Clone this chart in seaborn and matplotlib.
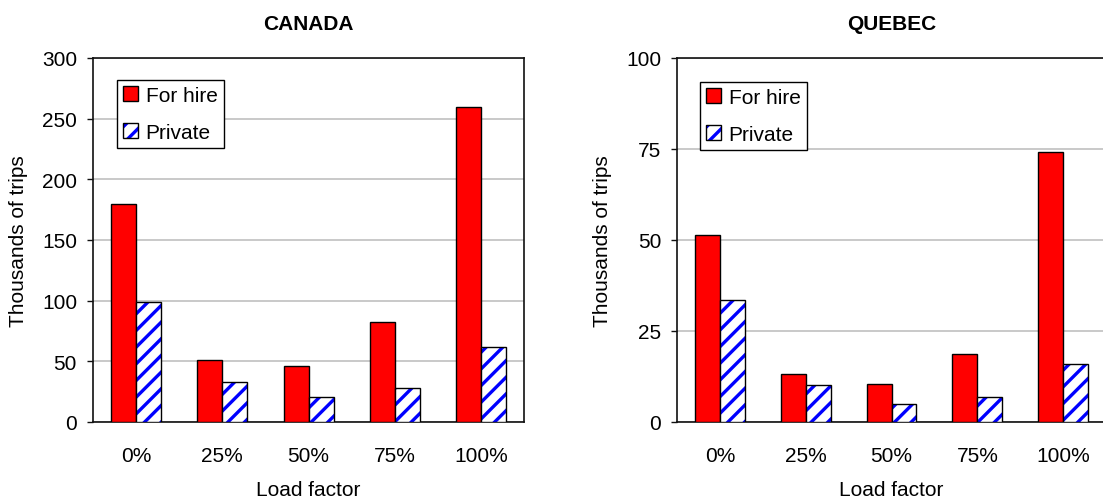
import matplotlib
matplotlib.use("Agg")
import matplotlib.pyplot as plt
import seaborn as sns
import pandas as pd
from matplotlib.patches import Patch, Rectangle
from matplotlib.legend_handler import HandlerTuple

categories = ["0%", "25%", "50%", "75%", "100%"]
series_names = ["For hire", "Private"]
canada_for_hire = [180, 51, 46, 82, 260]
canada_private = [99, 33, 21, 28, 62]
quebec_for_hire = [51.3, 13.2, 10.5, 18.6, 74.3]
quebec_private = [33.5, 10.2, 5.0, 7.0, 15.8]
canada_ticks = [0, 50, 100, 150, 200, 250, 300]
quebec_ticks = [0, 25, 50, 75, 100]

sns.set_theme(style="white")
plt.rcParams["font.family"] = ["Liberation Sans", "DejaVu Sans"]
plt.rcParams["hatch.linewidth"] = 2.4
plt.rcParams["text.color"] = "black"
plt.rcParams["axes.labelcolor"] = "black"
plt.rcParams["xtick.color"] = "black"
plt.rcParams["ytick.color"] = "black"

fig = plt.figure(figsize=(11.03, 5.02), dpi=100)
ax1 = fig.add_axes([0.0843, 0.1574, 0.3908, 0.7251])
ax2 = fig.add_axes([0.6138, 0.1574, 0.3890, 0.7251])

def make_df(hire, priv):
    rows = []
    for c, h, p in zip(categories, hire, priv):
        rows.append({"Load factor": c, "Type": series_names[0], "Value": h})
        rows.append({"Load factor": c, "Type": series_names[1], "Value": p})
    return pd.DataFrame(rows)

def draw(ax, hire, priv, ticks, title, leg_anchor):
    df = make_df(hire, priv)
    sns.barplot(data=df, x="Load factor", y="Value", hue="Type",
                hue_order=series_names, order=categories,
                palette={"For hire": "#ff0000", "Private": "white"},
                saturation=1, edgecolor="black", linewidth=1.0, width=0.58,
                legend=False, ax=ax, zorder=3)
    n = len(categories)
    priv_patches = ax.patches[n:2 * n]
    for p in list(priv_patches):
        p.set_hatch("//")
        p.set_edgecolor("#0000ff")
        p.set_linewidth(0)
        ax.add_patch(Rectangle(p.get_xy(), p.get_width(), p.get_height(),
                               fill=False, edgecolor="black", linewidth=1.0,
                               zorder=4))
    ax.set_ylim(ticks[0], ticks[-1])
    ax.set_yticks(ticks)
    ax.grid(axis="y", color="#c0c0c0", linewidth=1.2, zorder=0)
    ax.set_axisbelow(True)
    for s in ax.spines.values():
        s.set_color("#111111")
        s.set_linewidth(1.2)
        s.set_visible(True)
    ax.tick_params(axis="y", which="major", left=True, length=4.5, width=1.0,
                   direction="out", pad=7, labelsize=15, color="#111111")
    ax.tick_params(axis="x", length=0, pad=17, labelsize=15)
    ax.set_xlabel("Load factor", fontsize=15, labelpad=11)
    ax.set_ylabel("Thousands of trips", fontsize=15, labelpad=10)
    ax.set_title(title, fontsize=15, fontweight="bold", pad=21)
    h1 = Patch(facecolor="#ff0000", edgecolor="black", linewidth=1.0)
    h2a = Patch(facecolor="white", edgecolor="#0000ff", hatch="//", linewidth=0)
    h2b = Patch(facecolor="none", edgecolor="black", linewidth=1.0)
    leg = ax.legend([h1, (h2a, h2b)], series_names,
                    handler_map={tuple: HandlerTuple(ndivide=1)},
                    loc="upper left", bbox_to_anchor=leg_anchor,
                    borderaxespad=0, fontsize=15, handlelength=0.72,
                    handleheight=0.72, handletextpad=0.35, labelspacing=0.85,
                    borderpad=0.3, fancybox=False, framealpha=1,
                    edgecolor="black")
    leg.get_frame().set_linewidth(1.0)

draw(ax1, canada_for_hire, canada_private, canada_ticks, "CANADA", (0.056, 0.94))
draw(ax2, quebec_for_hire, quebec_private, quebec_ticks, "QUEBEC", (0.054, 0.935))

fig.savefig("out.png", dpi=100)
